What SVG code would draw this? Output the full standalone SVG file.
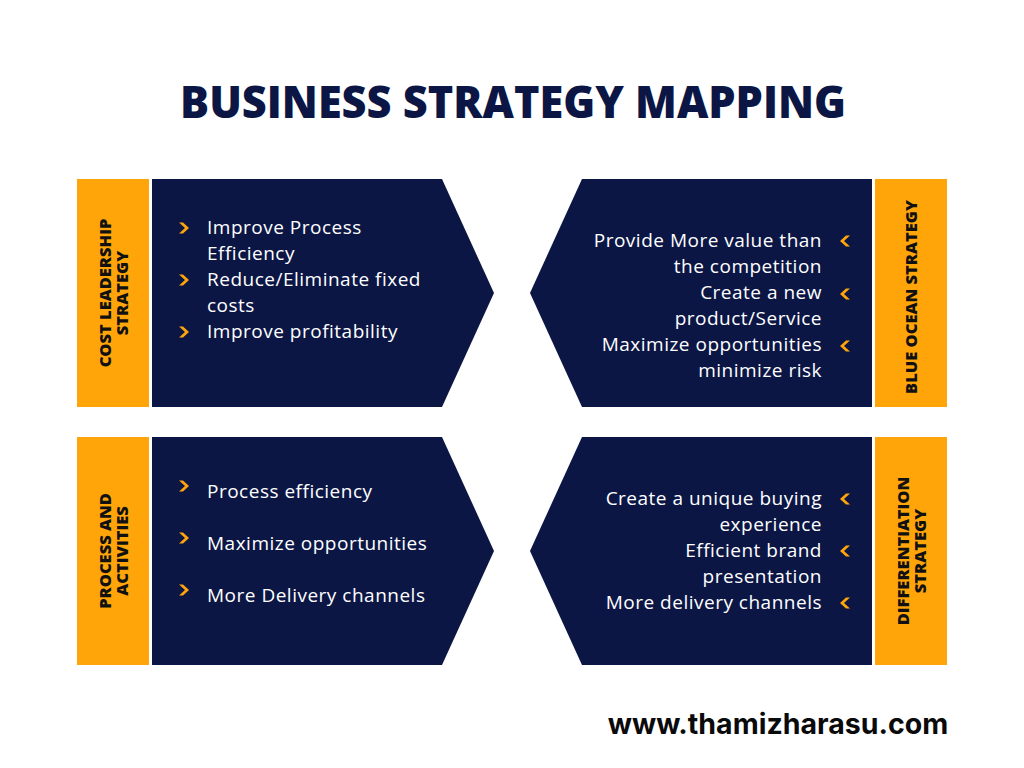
<svg xmlns="http://www.w3.org/2000/svg" width="1024" height="768" viewBox="0 0 1024 768">
<defs>
<style>
.navy{fill:#0b1645;}
.orange{fill:#ffa50a;}
.item{font-family:"Open Sans","Liberation Sans",sans-serif;font-size:19px;letter-spacing:0.5px;fill:#ffffff;}
.r{text-anchor:end;}
.lbl{font-family:"Open Sans","Liberation Sans",sans-serif;font-weight:800;font-size:16.5px;fill:#111111;text-anchor:middle;}
.title{font-family:"Open Sans","Liberation Sans",sans-serif;font-weight:800;font-size:44px;fill:#0b1645;text-anchor:middle;}
.url{font-family:"Inter","Liberation Sans",sans-serif;font-weight:700;font-size:28.5px;fill:#0a0a0a;text-anchor:middle;}
</style>
<polygon id="bR" points="-1,-5.5 5,0 -1,5.5 -5,5.5 1,0 -5,-5.5" class="orange"/>
<polygon id="bL" points="1,-5.5 -5,0 1,5.5 5,5.5 -1,0 5,-5.5" class="orange"/>
</defs>
<rect width="1024" height="768" fill="#ffffff"/>
<text class="title" x="513" y="118" textLength="666" lengthAdjust="spacingAndGlyphs">BUSINESS STRATEGY MAPPING</text>

<g id="cost-leadership">
<rect class="orange" x="77" y="179" width="72" height="228"/>
<text class="lbl" transform="translate(113,293) rotate(-90)"><tspan x="0" y="-2">COST LEADERSHIP</tspan><tspan x="0" y="15">STRATEGY</tspan></text>
<polygon class="navy" points="152,179 442,179 494,293 442,407 152,407"/>
<use href="#bR" x="184" y="228"/>
<use href="#bR" x="184" y="280"/>
<use href="#bR" x="184" y="332"/>
<text class="item" x="207" y="234">Improve Process</text>
<text class="item" x="207" y="260">Efficiency</text>
<text class="item" x="207" y="286">Reduce/Eliminate fixed</text>
<text class="item" x="207" y="312">costs</text>
<text class="item" x="207" y="338">Improve profitability</text>
</g>

<g id="blue-ocean">
<polygon class="navy" points="582,179 872,179 872,407 582,407 530,293"/>
<rect class="orange" x="875" y="179" width="72" height="228"/>
<text class="lbl" transform="translate(911,297) rotate(-90)" x="0" y="6">BLUE OCEAN STRATEGY</text>
<use href="#bL" x="845" y="241"/>
<use href="#bL" x="845" y="294"/>
<use href="#bL" x="845" y="346"/>
<text class="item r" x="822" y="247">Provide More value than</text>
<text class="item r" x="822" y="273">the competition</text>
<text class="item r" x="822" y="299">Create a new</text>
<text class="item r" x="822" y="325">product/Service</text>
<text class="item r" x="822" y="351">Maximize opportunities</text>
<text class="item r" x="822" y="377">minimize risk</text>
</g>

<g id="process-activities">
<rect class="orange" x="77" y="437" width="72" height="228"/>
<text class="lbl" transform="translate(113,551) rotate(-90)"><tspan x="0" y="-2">PROCESS AND</tspan><tspan x="0" y="15">ACTIVITIES</tspan></text>
<polygon class="navy" points="152,437 442,437 494,551 442,665 152,665"/>
<use href="#bR" x="184" y="486"/>
<use href="#bR" x="184" y="538"/>
<use href="#bR" x="184" y="590"/>
<text class="item" x="207" y="498">Process efficiency</text>
<text class="item" x="207" y="550">Maximize opportunities</text>
<text class="item" x="207" y="602">More Delivery channels</text>
</g>

<g id="differentiation">
<polygon class="navy" points="582,437 872,437 872,665 582,665 530,551"/>
<rect class="orange" x="875" y="437" width="72" height="228"/>
<text class="lbl" transform="translate(911,551) rotate(-90)"><tspan x="0" y="-2">DIFFERENTIATION</tspan><tspan x="0" y="15">STRATEGY</tspan></text>
<use href="#bL" x="845" y="499"/>
<use href="#bL" x="845" y="551"/>
<use href="#bL" x="845" y="603"/>
<text class="item r" x="822" y="505">Create a unique buying</text>
<text class="item r" x="822" y="531">experience</text>
<text class="item r" x="822" y="557">Efficient brand</text>
<text class="item r" x="822" y="583">presentation</text>
<text class="item r" x="822" y="609">More delivery channels</text>
</g>

<text class="url" x="778" y="734">www.thamizharasu.com</text>
</svg>
